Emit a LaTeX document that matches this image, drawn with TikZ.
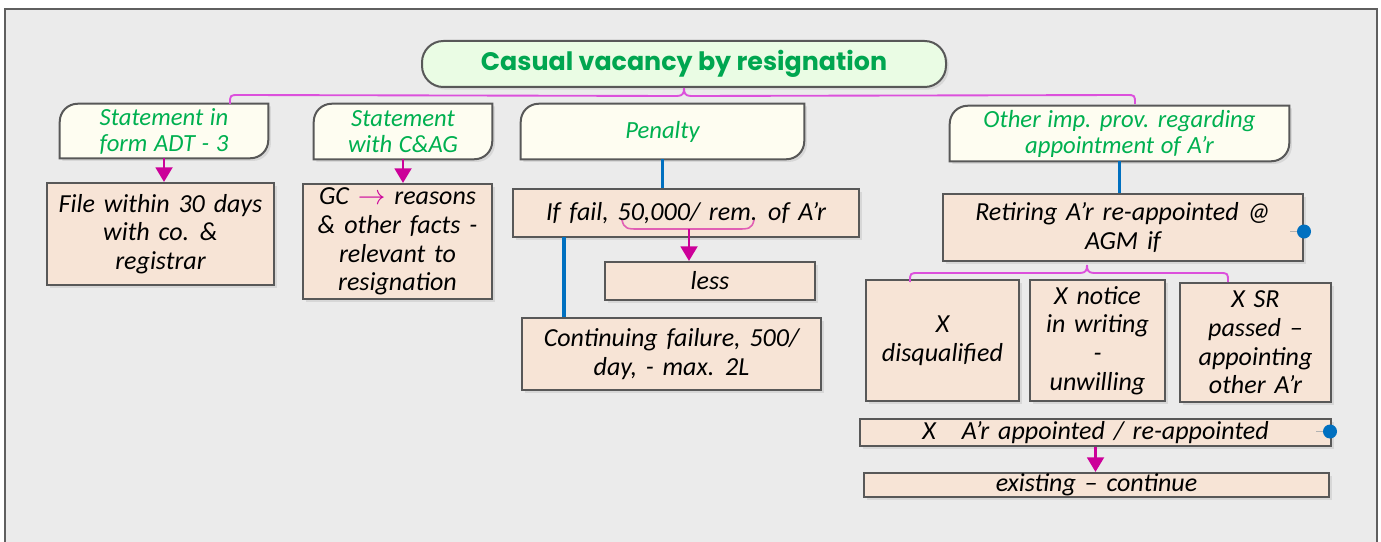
\documentclass[tikz,border=0pt]{standalone}
\usepackage{fontspec}
\setmainfont{Carlito}
\newfontfamily\titlefont{Poppins}
\usetikzlibrary{calc,arrows.meta,shadows}

\definecolor{bgGray}{RGB}{235,235,235}
\definecolor{frameGray}{RGB}{95,95,95}
\definecolor{lineGray}{RGB}{88,88,88}
\definecolor{titleFill}{RGB}{234,252,228}
\definecolor{titleGreen}{RGB}{0,166,80}
\definecolor{headGreen}{RGB}{0,176,80}
\definecolor{headFill}{RGB}{254,253,241}
\definecolor{boxFill}{RGB}{247,228,214}
\definecolor{arrowMag}{RGB}{204,0,153}
\definecolor{braceMag}{RGB}{220,80,220}
\definecolor{remPink}{RGB}{225,95,180}
\definecolor{linkBlue}{RGB}{0,112,192}

\pgfdeclarelayer{bg}
\pgfsetlayers{bg,main}

\tikzset{every picture/.style={line width=0.75pt}}
\tikzset{
  sz/.style 2 args={minimum width=#1*0.75pt, minimum height=#2*0.75pt},
  widespace/.style={execute at begin node={\spaceskip=#1em\relax}},
  titlebox/.style={draw=lineGray, line width=1.5pt, fill=titleFill, rounded corners=16pt, inner sep=0pt,
    text=titleGreen, font=\titlefont\bfseries\fontsize{19}{22}\selectfont,
    drop shadow={shadow xshift=2pt, shadow yshift=-2pt, opacity=0.18}},
  headtext/.style={inner sep=0pt, align=center, text=headGreen,
    font=\itshape\fontsize{18.5}{19.5}\selectfont, widespace=0.27},
  headline/.style={draw=lineGray, line width=1.5pt, fill=headFill,
    drop shadow={shadow xshift=2pt, shadow yshift=-2pt, opacity=0.18}},
  tbox/.style={draw=lineGray, line width=1.5pt, fill=boxFill, inner sep=0pt, align=center,
    font=\itshape\fontsize{19.5}{21.5}\selectfont, widespace=0.34,
    drop shadow={shadow xshift=2pt, shadow yshift=-2pt, opacity=0.18}},
  magarrow/.style={draw=arrowMag, line width=2.2pt, -{Triangle[width=12.5pt,length=11pt]}},
  bluelink/.style={draw=linkBlue, line width=2.6pt},
  brace/.style={draw=braceMag, line width=1.4pt},
  bluedot/.style={fill=linkBlue},
  dotstub/.style={draw=gray!60, line width=0.6pt},
}

% header frame: round top left and bottom right corners
\newcommand{\headframe}[1]{%
  \begin{pgfonlayer}{bg}
  \draw[headline] (#1.south west) -- ($(#1.north west)+(0,18)$)
    .. controls ($(#1.north west)+(0,8)$) and ($(#1.north west)+(8,0)$) .. ($(#1.north west)+(18,0)$)
    -- (#1.north east) -- ($(#1.south east)+(0,-18)$)
    .. controls ($(#1.south east)+(0,-8)$) and ($(#1.south east)+(-8,0)$) .. ($(#1.south east)+(-18,0)$) -- cycle;
  \end{pgfonlayer}}

\begin{document}
\begin{tikzpicture}[x=0.75pt,y=0.75pt,yscale=-1,xscale=1]
\useasboundingbox (0,0) rectangle (1381,542);

%Shape: Rectangle [back]
\begin{pgfonlayer}{bg}
\fill[bgGray] (5,9) rectangle (1377,542);
\draw[frameGray, line width=1.5pt] (5,545) -- (5,9) -- (1377,9) -- (1377,545);
\end{pgfonlayer}

% Title
\node[titlebox, sz={524}{46}] (title) at (684,64) {Casual vacancy by resignation};

% Header Nodes
\node[headtext, sz={208}{54}] (stmt) at (164,131) {Statement in\\form ADT - 3};
\headframe{stmt}
\node[headtext, sz={178}{55}] (cag) at (403,131.5) {Statement\\with C\&AG};
\headframe{cag}
\node[headtext, sz={283}{55}] (pen) at (662.5,131.5) {Penalty};
\headframe{pen}
\node[headtext, sz={339}{55}] (other) at (1119.5,133.5) {Other imp. prov. regarding\\appointment of A’r};
\headframe{other}

% Brace under title
\coordinate (braceL) at (230,104);
\coordinate (braceR) at (1135,104);
\draw[brace] (braceL) .. controls ($(braceL)+(0,-9)$) .. ($(braceL)+(9,-9)$)
  -- ($(title.south)+(-7,8)$) .. controls ($(title.south)+(-1,8)$) and ($(title.south)+(0,5)$) .. (title.south)
  .. controls ($(title.south)+(0,5)$) and ($(title.south)+(1,8)$) .. ($(title.south)+(7,8)$)
  -- ($(braceR)+(-9,-9)$) .. controls ($(braceR)+(0,-9)$) .. (braceR);

% Text Node
\node[tbox, sz={227}{102}] (file) at (160.5,234) {File within 30 days\\with co. \&\\registrar};
\node[tbox, sz={189}{115}] (gc) at (397.5,241.5) {GC {\color{arrowMag}$\rightarrow$} reasons\\\& other facts -\\relevant to\\resignation};
\node[tbox, sz={346}{48}] (fail) at (686,213) {If fail, 50,000/ rem. of A’r};
\node[tbox, sz={210}{38}] (less) at (710,281) {less};
\node[tbox, sz={299}{72}] (cont) at (671.5,354) {Continuing failure, 500/\\day, - max. 2L};
\node[tbox, sz={360}{67}] (retire) at (1123,227.5) {Retiring A’r re-appointed @\\AGM if};
\node[tbox, sz={153}{121}] (disq) at (942.5,340.5) {X\\disqualified};
\node[tbox, sz={135}{121}] (notice) at (1097.5,340.5) {X notice\\in writing\\-\\unwilling};
\node[tbox, sz={151}{119}] (sr) at (1255.5,342.5) {X SR\\passed –\\appointing\\other A’r};
\node[tbox, sz={471}{27}] (appt) at (1095.5,432.5) {X\quad A’r appointed / re-appointed};
\node[tbox, sz={465}{24}] (exist) at (1096.5,485) {existing – continue};

%Straight Lines
\draw[magarrow] (stmt.south) -- (stmt.south |- file.north);
\draw[magarrow] (cag.south) -- (cag.south |- gc.north);
\draw[bluelink] (pen.south) -- (pen.south |- fail.north);
\coordinate (failL) at (564,237);
\draw[bluelink] (failL) -- (failL |- cont.north);
\draw[bluelink] (other.south) -- (other.south |- retire.north);
\draw[magarrow] (appt.south) -- (appt.south |- exist.north);

% underline of the amount
\coordinate (remL) at (622,220);
\coordinate (remR) at (754,220);
\coordinate (rem) at (689,229);
\draw[remPink, line width=1.2pt] (remL) .. controls ($(remL)+(2,9)$) and ($(remL)+(6,9)$) .. ($(remL)+(16,9)$)
  -- ($(remR)+(-16,9)$) .. controls ($(remR)+(-6,9)$) and ($(remR)+(-2,9)$) .. (remR);
\draw[magarrow] (rem) -- (rem |- less.north);

% Brace under retiring
\coordinate (tip) at (1087,265);
\coordinate (br2L) at (910,282);
\coordinate (br2R) at (1228,282);
\draw[brace] (br2L) .. controls ($(br2L)+(0,-9)$) .. ($(br2L)+(9,-9)$)
  -- ($(tip)+(-7,8)$) .. controls ($(tip)+(-1,8)$) and ($(tip)+(0,5)$) .. (tip)
  .. controls ($(tip)+(0,5)$) and ($(tip)+(1,8)$) .. ($(tip)+(7,8)$)
  -- ($(br2R)+(-9,-9)$) .. controls ($(br2R)+(0,-9)$) .. (br2R);

% dots
\draw[dotstub] ($(retire.east)+(-14,4)$) -- ($(retire.east)+(0,4)$);
\fill[bluedot] ($(retire.east)+(0,4)$) circle (7);
\draw[dotstub] ($(appt.east)+(-16,-1)$) -- ($(appt.east)+(-2,-1)$);
\fill[bluedot] ($(appt.east)+(-2,-1)$) circle (7);
\end{tikzpicture}
\end{document}
